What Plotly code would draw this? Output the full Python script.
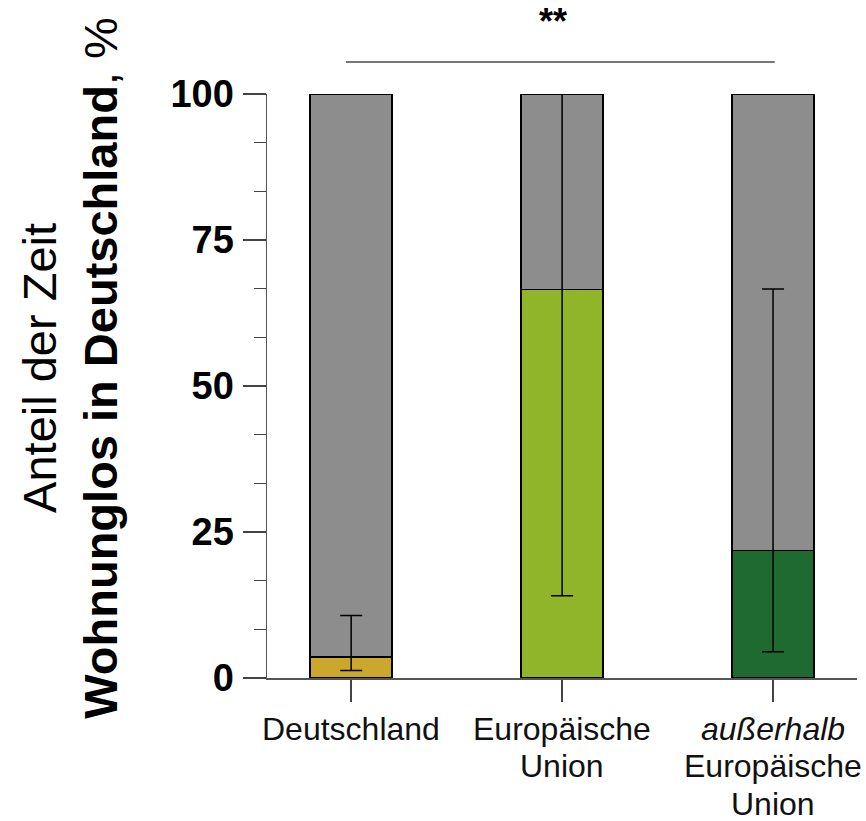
import plotly.graph_objects as go

# ---- data ----
categories = ["Deutschland", "Europäische<br>Union", "<i>außerhalb</i><br>Europäische<br>Union"]
share = [3.6, 66.5, 21.8]          # % of time homeless in Germany (median)
err_low = [1.3, 14.1, 4.5]         # lower bound of interval
err_high = [10.7, 100.0, 66.6]     # upper bound of interval
total = [100, 100, 100]
bar_colors = ["#c9a82b", "#90b42a", "#1f6a30"]
rest_color = "#8e8d8e"
y_ticks = [0, 25, 50, 75, 100]
signif_label = "**"

xpos = list(range(len(categories)))
rest = [t - s for t, s in zip(total, share)]

FONT = "Liberation Sans, Arial, Helvetica, sans-serif"
PLOT_BOTTOM = 678.3   # screen px of y=0
PLOT_H = 584.0        # screen px for 0..100

def paper_y(screen_y):
    return (PLOT_BOTTOM - screen_y) / PLOT_H

fig = go.Figure()
fig.add_trace(go.Bar(
    x=xpos, y=share, width=0.388,
    marker=dict(color=bar_colors, line=dict(color="black", width=1.5)),
    showlegend=False, hoverinfo="skip",
))
fig.add_trace(go.Bar(
    x=xpos, y=rest, width=0.388,
    marker=dict(color=rest_color, line=dict(color="black", width=1.5)),
    showlegend=False, hoverinfo="skip",
))
fig.add_trace(go.Scatter(
    x=xpos, y=share, mode="markers",
    marker=dict(color="rgba(0,0,0,0)", size=1),
    error_y=dict(type="data", symmetric=False,
                 array=[h - s for h, s in zip(err_high, share)],
                 arrayminus=[s - l for s, l in zip(share, err_low)],
                 color="black", thickness=1.5, width=11),
    showlegend=False, hoverinfo="skip",
))

# category labels: one annotation per line (tighter line spacing than tick labels)
annotations = []
line_centers = [729, 766.5, 804]
for xi, label in zip(xpos, categories):
    for k, line in enumerate(label.split("<br>")):
        annotations.append(dict(
            text=line, xref="x", yref="paper", x=xi, y=paper_y(line_centers[k]),
            xanchor="center", yanchor="middle", showarrow=False,
            font=dict(size=32, family=FONT, color="#111111")))

annotations.append(dict(
    text="Anteil der Zeit<br><b>Wohnunglos in Deutschland</b>, %",
    textangle=-90, xref="paper", yref="paper",
    x=(70 - 267) / 590, y=paper_y(368),
    xanchor="center", yanchor="middle", showarrow=False,
    font=dict(size=47, family=FONT, color="black")))
annotations.append(dict(
    text="<b>" + signif_label + "</b>", xref="paper", yref="paper",
    x=(552.5 - 267) / 590, y=paper_y(22),
    xanchor="center", yanchor="middle", showarrow=False,
    font=dict(size=36, family=FONT, color="black")))

fig.update_layout(
    width=866, height=821,
    margin=dict(l=267, r=9, t=94, b=143),
    barmode="stack",
    plot_bgcolor="white", paper_bgcolor="white",
    font=dict(family=FONT, color="black"),
    xaxis=dict(
        range=[-0.399, 2.398], tickvals=xpos, ticktext=["" for _ in xpos],
        showline=True, linecolor="#555555", linewidth=1.5,
        ticks="outside", ticklen=22, tickwidth=1.5, tickcolor="#444444",
        showgrid=False, zeroline=False, automargin=False,
    ),
    yaxis=dict(
        range=[0, 100], tickvals=y_ticks,
        showline=True, linecolor="#555555", linewidth=1.5,
        ticks="outside", ticklen=23, tickwidth=1.5, tickcolor="#444444",
        minor=dict(dtick=25/3, tick0=0, ticks="outside", ticklen=12, tickwidth=1.5, tickcolor="#444444"),
        tickfont=dict(size=38, family=FONT, color="black", weight="bold"),
        showgrid=False, zeroline=False, ticklabelstandoff=1,
        automargin=False,
    ),
    shapes=[dict(type="line", xref="x", yref="paper",
                 x0=-0.025, x1=2.008, y0=paper_y(62.3), y1=paper_y(62.3),
                 line=dict(color="#777777", width=2))],
    annotations=annotations,
)

# remove the browser's default 8px body margin so the figure fills the window
fig.write_html("out.html",
               config={"displayModeBar": False, "staticPlot": True},
               post_script="document.body.style.margin='0';document.body.style.overflow='hidden';")
